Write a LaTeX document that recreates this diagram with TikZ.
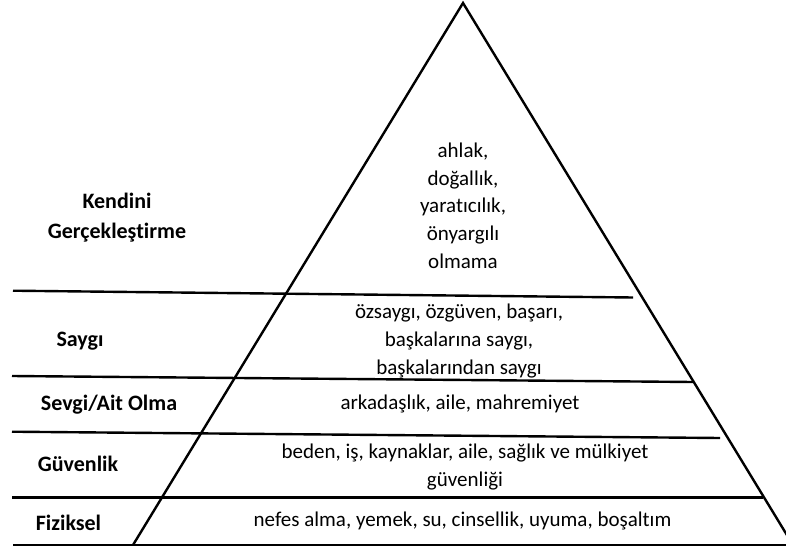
\documentclass[tikz,border=0pt]{standalone}
\usepackage{fontspec}
\setmainfont[Ligatures=NoCommon]{Carlito}

\begin{document}
\begin{tikzpicture}[x=1pt, y=-1pt, line width=2.4pt,
    font=\fontsize{21}{27.7}\selectfont,
    level/.style={font=\bfseries\fontsize{22}{30}\selectfont, align=center},
    need/.style={align=center}]
    \clip (0,0) rectangle (786,548);%
    % pyramid
    \coordinate (top) at (463,3);%
    \coordinate (baseL) at (133,545);%
    \coordinate (baseR) at (793,545);%
    \draw[line join=miter] (baseL) -- (top) -- (baseR);%
    % level lines
    \coordinate (a1) at (13,290.7); \coordinate (b1) at (633,297.5);%
    \coordinate (a2) at (12,376);   \coordinate (b2) at (693,382);%
    \coordinate (a3) at (12,431.7); \coordinate (b3) at (720,438);%
    \coordinate (a4) at (12,497.5); \coordinate (b4) at (763,497.5);%
    \coordinate (a5) at (13,545);   \coordinate (b5) at (786,545);%
    \foreach \i in {1,...,5} \draw (a\i) -- (b\i);%
    % level names
    \node[level] (kendini) at (117,218) {Kendini\\Gerçekleştirme};%
    \node[level] (saygi) at (80,341) {Saygı};%
    \node[level] (sevgi) at (109,405) {Sevgi/Ait Olma};%
    \node[level] (guven) at (78,464) {Güvenlik};%
    \node[level] (fizik) at (68.5,523) {Fiziksel};%
    % needs
    \node[need] (ahlak) at (463,205.5)
      {ahlak,\\doğallık,\\yaratıcılık,\\önyargılı\\olmama};%
    \node[need] (ozsaygi) at (459,341)
      {özsaygı, özgüven, başarı,\\başkalarına saygı,\\başkalarından saygı};%
    \node[need] (arkadas) at (460,404) {arkadaşlık, aile, mahremiyet};%
    \node[need] (beden) at (465,467)
      {beden, iş, kaynaklar, aile, sağlık ve mülkiyet\\güvenliği};%
    \node[need] (nefes) at (462.5,521)
      {nefes alma, yemek, su, cinsellik, uyuma, boşaltım};%
\end{tikzpicture}
\end{document}
